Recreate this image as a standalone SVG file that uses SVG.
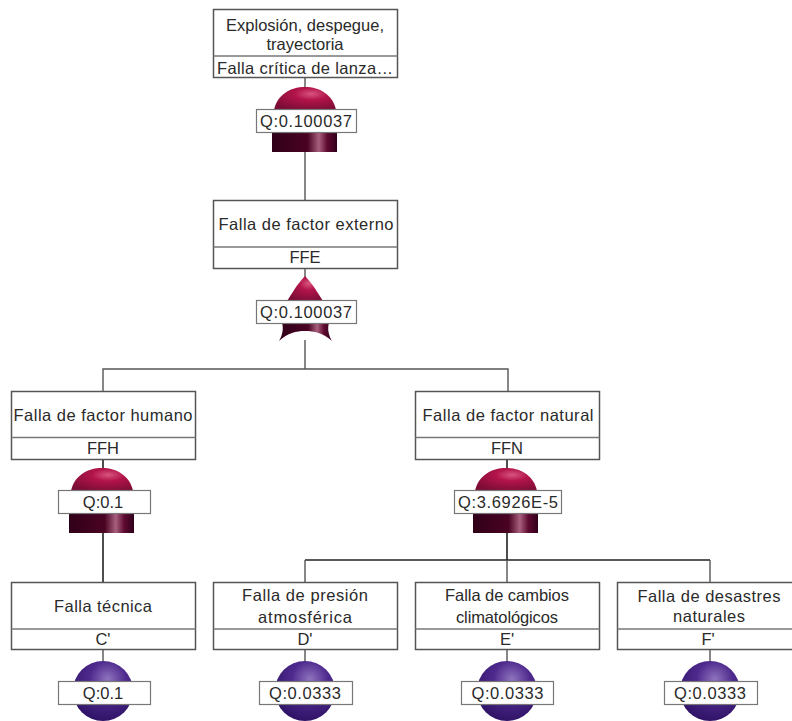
<svg xmlns="http://www.w3.org/2000/svg" width="792" height="721" viewBox="0 0 792 721">
<style>
text{font-family:"Liberation Sans",Arial,sans-serif;font-size:16.5px;fill:#2a2a2a;text-anchor:middle}
.box{fill:#fff;stroke:#555;stroke-width:1.5}
.div{stroke:#777;stroke-width:1.5;fill:none}
.lab{fill:#fff;stroke:#777;stroke-width:1.2}
.c{fill:none;stroke:#555;stroke-width:1.4}
.k{fill:none;stroke:#222;stroke-width:1.6}
</style>
<defs>
<radialGradient id="red" cx="0.6" cy="0.3" r="0.75"><stop offset="0" stop-color="#d8557f"/><stop offset="0.35" stop-color="#b3144a"/><stop offset="1" stop-color="#7a0c35"/></radialGradient>
<linearGradient id="bar" x1="0" y1="0" x2="1" y2="0"><stop offset="0" stop-color="#300018"/><stop offset="0.55" stop-color="#4a0322"/><stop offset="0.72" stop-color="#a8607e"/><stop offset="0.85" stop-color="#5e0a30"/><stop offset="1" stop-color="#30001a"/></linearGradient>
<radialGradient id="pur" cx="0.58" cy="0.3" r="0.75"><stop offset="0" stop-color="#8f74bd"/><stop offset="0.4" stop-color="#4f2a8e"/><stop offset="1" stop-color="#2c1162"/></radialGradient>
<symbol id="or" overflow="visible"><path d="M-31 23C-28 8-15 0 0 0S28 8 31 23Z" fill="url(#red)"/><rect x="-33" y="45" width="65" height="20" fill="url(#bar)"/></symbol>
</defs>
<g id="connectors">
<path class="c" d="M305 78V90M305 150V200M305 268V280M305 340V369M103 391V369H508V391"/>
<path class="k" d="M103 459V470M103 533V582"/>
<path class="k" d="M507 459V470M507 533V560"/>
<path class="k" d="M305 560H710"/>
<path class="c" d="M305 582V560M710 560V582M507 560V582"/>
<path class="c" d="M103 650V662M305 650V662M507 650V662M710 650V662"/>
</g>
<g id="n-top"><rect class="box" x="213.500" y="9.500" width="184" height="68"/><path class="div" d="M213.500 56H397.500"/>
<text x="305" y="31" textLength="158">Explosión, despegue,</text><text x="305" y="50">trayectoria</text><text x="305" y="74" textLength="176">Falla crítica de lanza…</text>
<use href="#or" x="305" y="87"/><rect class="lab" x="256.500" y="109.500" width="100" height="23"/><text x="306" y="127" textLength="92">Q:0.100037</text></g>
<g id="n-ffe"><rect class="box" x="213.500" y="200.500" width="184" height="68"/><path class="div" d="M213.500 247H397.500"/>
<text x="306" y="230" textLength="175">Falla de factor externo</text><text x="305" y="263">FFE</text>
<path d="M305 276C302 279 299 283 296 287L287 301H323L314 287C311 283 308 279 305 276Z" fill="url(#red)"/>
<path d="M282 323H329C327 329 329 336 332 341C323 333 314 331 305 331S288 333 279 341C282 336 284 329 282 323Z" fill="url(#bar)"/>
<rect class="lab" x="256.500" y="300.500" width="100" height="23"/><text x="306" y="318" textLength="92">Q:0.100037</text></g>
<g id="n-ffh"><rect class="box" x="11.500" y="391.500" width="184" height="68"/><path class="div" d="M11.500 437.500H195.500"/>
<text x="103" y="421" textLength="179">Falla de factor humano</text><text x="103" y="454">FFH</text>
<use href="#or" x="102" y="468"/><rect class="lab" x="58.500" y="490.500" width="92" height="23"/><text x="103" y="508">Q:0.1</text></g>
<g id="n-ffn"><rect class="box" x="415.500" y="391.500" width="184" height="68"/><path class="div" d="M415.500 437.500H599.500"/>
<text x="508" y="421" textLength="171">Falla de factor natural</text><text x="507" y="454">FFN</text>
<use href="#or" x="506" y="468"/><rect class="lab" x="454.500" y="490.500" width="107" height="23"/><text x="508" y="508" textLength="100">Q:3.6926E-5</text></g>
<g id="n-c"><rect class="box" x="11.500" y="582.500" width="184" height="67"/><path class="div" d="M11.500 629H195.500"/>
<text x="103" y="612" textLength="98">Falla técnica</text><text x="103" y="645">C'</text>
<circle cx="103" cy="691" r="30" fill="url(#pur)"/><rect class="lab" x="58.500" y="681.500" width="92" height="23"/><text x="103" y="699">Q:0.1</text></g>
<g id="n-d"><rect class="box" x="213.500" y="582.500" width="184" height="67"/><path class="div" d="M213.500 629H397.500"/>
<text x="305" y="601" textLength="126">Falla de presión</text><text x="305" y="623" textLength="94">atmosférica</text><text x="305" y="645">D'</text>
<circle cx="305" cy="691" r="30" fill="url(#pur)"/><rect class="lab" x="259.500" y="681.500" width="93" height="23"/><text x="305" y="699" textLength="72">Q:0.0333</text></g>
<g id="n-e"><rect class="box" x="415.500" y="582.500" width="184" height="67"/><path class="div" d="M415.500 629H599.500"/>
<text x="507" y="601" textLength="124">Falla de cambios</text><text x="507" y="623" textLength="102">climatológicos</text><text x="507" y="645">E'</text>
<circle cx="507" cy="691" r="30" fill="url(#pur)"/><rect class="lab" x="461.500" y="681.500" width="92" height="23"/><text x="507.500" y="699" textLength="72">Q:0.0333</text></g>
<g id="n-f"><rect class="box" x="617.500" y="582.500" width="184" height="67"/><path class="div" d="M617.500 629H801.500"/>
<text x="709" y="602" textLength="143">Falla de desastres</text><text x="709" y="622" textLength="72">naturales</text><text x="708" y="645">F'</text>
<circle cx="710" cy="691" r="30" fill="url(#pur)"/><rect class="lab" x="664.500" y="681.500" width="93" height="23"/><text x="710" y="699" textLength="72">Q:0.0333</text></g>
</svg>
